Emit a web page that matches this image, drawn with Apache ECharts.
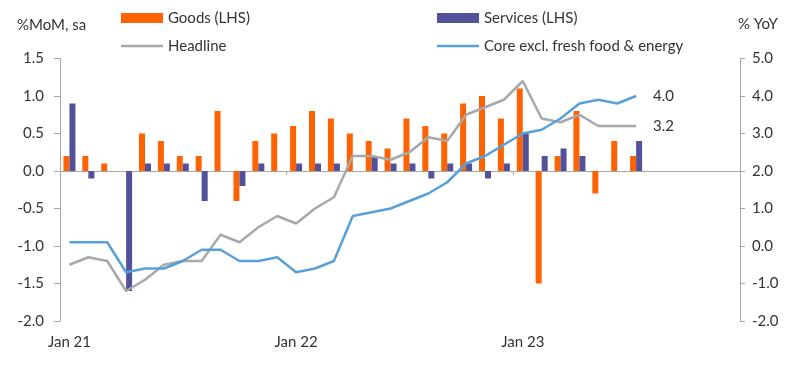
<!DOCTYPE html>
<html>
<head>
<meta charset="utf-8">
<script src="https://cdn.jsdelivr.net/npm/echarts@6/dist/echarts.min.js"></script>
<style>
html,body{margin:0;padding:0;background:#fff;}
#c{width:800px;height:368px;}
</style>
</head>
<body>
<div id="c"></div>
<script>
const months = ['Jan 21','Feb 21','Mar 21','Apr 21','May 21','Jun 21','Jul 21','Aug 21','Sep 21','Oct 21','Nov 21','Dec 21',
  'Jan 22','Feb 22','Mar 22','Apr 22','May 22','Jun 22','Jul 22','Aug 22','Sep 22','Oct 22','Nov 22','Dec 22',
  'Jan 23','Feb 23','Mar 23','Apr 23','May 23','Jun 23','Jul 23','Aug 23','Sep 23','Oct 23','Nov 23','Dec 23'];
const goods = [0.2,0.2,0.1,0,0.5,0.4,0.2,0.2,0.8,-0.4,0.4,0.5,
  0.6,0.8,0.7,0.5,0.4,0.3,0.7,0.6,0.5,0.9,1.0,0.7,
  1.1,-1.5,0.2,0.8,-0.3,0.4,0.2];
const services = [0.9,-0.1,0,-1.6,0.1,0.1,0.1,-0.4,0,-0.2,0.1,0,
  0.1,0.1,0.1,0,0.2,0.1,0.1,-0.1,0.1,0.1,-0.1,0.1,
  0.5,0.2,0.3,0.2,0,0,0.4];
const headline = [-0.5,-0.3,-0.4,-1.2,-0.9,-0.5,-0.4,-0.4,0.3,0.1,0.5,0.8,
  0.6,1.0,1.3,2.4,2.4,2.3,2.5,2.9,2.8,3.5,3.7,3.9,
  4.4,3.4,3.3,3.5,3.2,3.2,3.2];
const core = [0.1,0.1,0.1,-0.7,-0.6,-0.6,-0.4,-0.1,-0.1,-0.4,-0.4,-0.3,
  -0.7,-0.6,-0.4,0.8,0.9,1.0,1.2,1.4,1.7,2.2,2.4,2.7,
  3.0,3.1,3.4,3.8,3.9,3.8,4.0];
const leftTitle = '%MoM, sa';
const rightTitle = '% YoY';

const FONT = 'Lato';
const TXT = '#333333';
const AX = '#A6A6A6';
const C_GOODS = '#FF6200', C_SERV = '#525199', C_HEAD = '#A8A8A8', C_CORE = '#5AA0D8';

const chart = echarts.init(document.getElementById('c'), null, {renderer: 'canvas'});
const legendBase = {padding: 0, itemWidth: 42, textStyle: {fontFamily: FONT, fontSize: 15, color: TXT, lineHeight: 16}, icon: 'rect', selectedMode: false};
chart.setOption({
  animation: false,
  textStyle: {fontFamily: FONT},
  grid: {left: 60, right: 60, top: 58.5, bottom: 47, containLabel: false},
  legend: [
    Object.assign({}, legendBase, {data: ['Goods (LHS)'], left: 121, top: 10, itemHeight: 10}),
    Object.assign({}, legendBase, {data: ['Services (LHS)'], left: 437, top: 10, itemHeight: 10}),
    Object.assign({}, legendBase, {data: ['Headline'], left: 121, top: 38, itemHeight: 2.5}),
    Object.assign({}, legendBase, {data: ['Core excl. fresh food & energy'], left: 437, top: 38, itemHeight: 2.5})
  ],
  graphic: [
    {type: 'text', left: 17, top: 18, style: {text: leftTitle, font: '15px Lato', fill: TXT}},
    {type: 'text', left: 738, top: 17, style: {text: rightTitle, font: '15px Lato', fill: TXT}}
  ],
  xAxis: [
    {type: 'category', data: months, boundaryGap: true, position: 'bottom',
     axisLine: {show: false, onZero: false}, axisTick: {show: false},
     axisLabel: {interval: 11, margin: 14, fontFamily: FONT, fontSize: 15, color: TXT}},
    {type: 'category', data: months, boundaryGap: true, position: 'bottom',
     axisLine: {show: true, onZero: true, onZeroAxisIndex: 0, lineStyle: {color: AX, width: 1}},
     axisTick: {show: true, interval: 11, length: 4, lineStyle: {color: AX}},
     axisLabel: {show: false}}
  ],
  yAxis: [
    {type: 'value', min: -2, max: 1.5, interval: 0.5, position: 'left',
     splitLine: {show: false},
     axisLine: {show: true, lineStyle: {color: AX}},
     axisTick: {show: true, length: 6, lineStyle: {color: AX}},
     axisLabel: {margin: 16, fontFamily: FONT, fontSize: 15, color: TXT, formatter: v => v.toFixed(1)}},
    {type: 'value', min: -2, max: 5, interval: 1, position: 'right',
     splitLine: {show: false},
     axisLine: {show: true, lineStyle: {color: AX}},
     axisTick: {show: true, length: 5, lineStyle: {color: AX}},
     axisLabel: {margin: 12, fontFamily: FONT, fontSize: 15, color: TXT, formatter: v => v.toFixed(1)}}
  ],
  series: [
    {name: 'Goods (LHS)', type: 'bar', xAxisIndex: 0, yAxisIndex: 0, data: goods,
     barWidth: 6, barGap: '0%', itemStyle: {color: C_GOODS}, z: 2},
    {name: 'Services (LHS)', type: 'bar', xAxisIndex: 0, yAxisIndex: 0, data: services,
     barWidth: 6, barGap: '0%', itemStyle: {color: C_SERV}, z: 2},
    {name: 'Headline', type: 'line', xAxisIndex: 0, yAxisIndex: 1, data: headline,
     symbol: 'none', lineStyle: {color: C_HEAD, width: 2.5}, itemStyle: {color: C_HEAD}, z: 3,
     endLabel: {show: true, distance: 17, formatter: p => Number(p.value).toFixed(1), fontFamily: FONT, fontSize: 15, color: TXT}},
    {name: 'Core excl. fresh food & energy', type: 'line', xAxisIndex: 0, yAxisIndex: 1, data: core,
     symbol: 'none', lineStyle: {color: C_CORE, width: 2.5}, itemStyle: {color: C_CORE}, z: 4,
     endLabel: {show: true, distance: 17, formatter: p => Number(p.value).toFixed(1), fontFamily: FONT, fontSize: 15, color: TXT}}
  ]
});
</script>
</body>
</html>
